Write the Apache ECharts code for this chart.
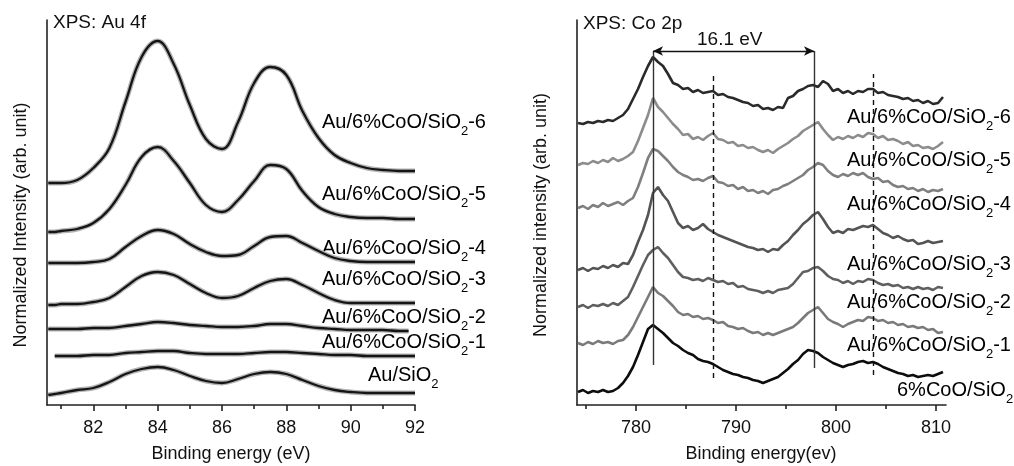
<!DOCTYPE html>
<html><head><meta charset="utf-8">
<script src="https://cdn.jsdelivr.net/npm/echarts@6/dist/echarts.min.js"></script>
<style>html,body{margin:0;padding:0;background:#fff}#c{width:1014px;height:466px}</style>
</head><body><div id="c"></div>
<script>
// ---------- Left panel: XPS Au 4f (fitted curves) ----------
const xAu = [80.6, 80.8, 81, 81.5, 82, 82.5, 83, 83.5, 84, 84.5, 85, 85.5, 86, 86.5, 87, 87.5, 88, 88.5, 89, 89.5, 90, 90.5, 91, 91.5, 91.8, 92];
const au6 = [222, 222, 222, 225, 237, 257, 303, 348, 364, 341, 300, 266, 256, 283, 322, 338, 330, 294, 267, 250, 242, 237, 235, 234, 234, 234];
const au5 = [173, 173, 174, 176, 182, 196, 220, 248, 258, 244, 222, 200, 193, 205, 224, 240, 236, 214, 198, 191, 188, 187, 187, 186, 186, 186];
const au4 = [142, 142, 142, 142, 143, 146, 158, 169, 175, 171, 161, 153, 149, 150, 159, 168, 169, 162, 154, 147, 144, 143, 143, 143, 143, 143];
const au3 = [100, 100, 101, 101, 103, 107, 118, 129, 133, 130, 121, 112, 107, 109, 117, 124, 126, 120, 112, 105, 102, 102, 102, 102, 102, 102];
const au2 = [76, 76, 76, 76, 77, 77, 79, 81, 83, 82, 80, 79, 78, 78, 79, 81, 81, 79, 77, 76, 75, 75, 75, 74, 74, null];
const au1 = [null, 49, 49, 49, 50, 50, 52, 53, 54, 54, 52, 51, 51, 51, 52, 53, 53, 52, 51, 50, 50, 49, 49, 49, 49, 49];
const auSiO2 = [10, 11, 12, 15, 17, 23, 31, 36, 38, 35, 29, 24, 22, 26, 31, 33, 31, 25, 19, 15, 13, 12, 12, 12, 12, 12];
const auMajorTicks = [82, 84, 86, 88, 90, 92];
const auMinorTicks = [81, 83, 85, 87, 89, 91];
const auLabels = [['Au/6%CoO/SiO', '-6'], ['Au/6%CoO/SiO', '-5'], ['Au/6%CoO/SiO', '-4'], ['Au/6%CoO/SiO', '-3'], ['Au/6%CoO/SiO', '-2'], ['Au/6%CoO/SiO', '-1'], ['Au/SiO', '']];

// ---------- Right panel: XPS Co 2p ----------
const xCo = [774.2, 774.7, 775.2, 775.7, 776.2, 776.7, 777.2, 777.7, 778.2, 778.7, 779.2, 779.7, 780.2, 780.7, 781.2, 781.7, 782.2, 782.7, 783.2, 783.7, 784.2, 784.7, 785.2, 785.7, 786.2, 786.7, 787.2, 787.7, 788.2, 788.7, 789.2, 789.7, 790.2, 790.7, 791.2, 791.7, 792.2, 792.7, 793.2, 793.7, 794.2, 794.7, 795.2, 795.7, 796.2, 796.7, 797.2, 797.7, 798.2, 798.7, 799.2, 799.7, 800.2, 800.7, 801.2, 801.7, 802.2, 802.7, 803.2, 803.7, 804.2, 804.7, 805.2, 805.7, 806.2, 806.7, 807.2, 807.7, 808.2, 808.7, 809.2, 809.7, 810.2, 810.7];
const co6 = [282,281,283,282,284,283,285,284,287,290, 296,306,316,328,339,348,343,339,331,322, 320,316,317,313,315,312,313,314,310,311, 308,307,305,303,302,299,300,296,297,295, 298,297,307,309,314,316,319,320,318,324, 321,314,316,312,314,311,314,313,316,316, 312,313,310,309,308,306,307,304,305,302, 304,301,302,308];
const co5 = [240,242,241,244,242,245,243,247,244,246, 249,253,264,277,290,307,298,293,287,281, 276,270,271,266,268,265,269,272,266,265, 262,263,259,260,257,258,255,253,255,252, 256,259,262,266,269,274,277,280,283,276, 270,265,268,266,269,267,270,268,272,271, 267,269,265,266,264,261,263,259,260,257, 258,256,259,263];
const co4 = [197,199,196,200,198,202,199,201,203,200, 204,207,218,232,247,256,254,249,244,238, 233,230,228,225,226,224,227,229,223,222, 219,220,216,218,214,215,212,214,211,215, 216,219,221,224,227,230,235,238,242,240, 234,230,228,231,229,232,230,232,228,226, 227,223,224,220,218,219,216,217,214,216, 213,215,214,216];
const co3 = [135,137,134,137,136,139,137,140,138,142, 141,150,163,175,190,212,218,210,204,193, 182,177,179,175,177,181,176,173,170,168, 166,164,162,160,158,157,155,156,153,156, 155,160,164,170,175,181,185,190,193,186, 178,172,174,172,176,175,177,179,178,180, 176,172,170,167,169,166,164,165,161,162, 164,162,163,164];
const co2 = [98,100,97,100,99,101,99,102,100,104, 108,118,129,140,150,155,158,152,147,140, 133,128,127,125,126,124,127,125,123,124, 121,122,118,119,116,115,114,112,114,112, 115,116,117,121,127,133,134,137,138,134, 129,126,125,122,124,121,124,123,126,125, 122,120,121,119,120,117,118,116,118,116, 117,115,118,117];
const co1 = [62,60,63,61,64,62,63,61,64,65, 70,78,88,98,108,118,112,109,104,99, 93,90,91,88,89,86,87,85,82,83, 79,78,76,77,74,72,73,70,72,70, 72,74,76,78,82,87,92,95,98,92, 86,83,81,78,81,83,85,84,88,87, 84,85,82,83,80,81,78,79,77,78, 75,76,72,73];
const co0 = [13,15,12,14,13,15,13,14,17,22, 29,38,50,63,76,80,76,72,67,62, 59,55,52,50,46,44,43,41,38,35, 33,31,30,28,27,25,24,22,24,26, 28,32,36,41,45,51,55,54,52,48, 45,42,40,38,40,41,43,44,42,43, 41,38,36,34,32,31,29,30,28,29, 30,29,31,33];
const coMajorTicks = [780, 790, 800, 810];
const coMinorTicks = [775, 785, 795, 805];
const coLabels = [['Au/6%CoO/SiO', '-6'], ['Au/6%CoO/SiO', '-5'], ['Au/6%CoO/SiO', '-4'], ['Au/6%CoO/SiO', '-3'], ['Au/6%CoO/SiO', '-2'], ['Au/6%CoO/SiO', '-1'], ['6%CoO/SiO', '']];
const coPeaks = [781.7, 797.8];      // Co 2p3/2 and 2p1/2 main peaks (solid lines)
const coSatellites = [787.7, 803.7]; // satellite positions (dashed lines)
const splitText = '16.1 eV';

const FONT = 'Liberation Sans, Arial, Helvetica, sans-serif';
const pairs = (xs, ys) => xs.map((x, i) => [x, ys[i]]);

const auCurves = [au6, au5, au4, au3, au2, au1, auSiO2];
const coCurves = [co6, co5, co4, co3, co2, co1, co0];
const coColors = ['#2a2a2a', '#8c8c8c', '#7f7f7f', '#545454', '#5f5f5f', '#7a7a7a', '#0d0d0d'];

const series = [];
auCurves.forEach(c => {
  series.push({type: 'line', xAxisIndex: 0, yAxisIndex: 0, data: pairs(xAu, c), smooth: 0.4, showSymbol: false, connectNulls: false,
    lineStyle: {color: '#b4b4b4', width: 5}, z: 1, silent: true});
  series.push({type: 'line', xAxisIndex: 0, yAxisIndex: 0, data: pairs(xAu, c), smooth: 0.4, showSymbol: false,
    lineStyle: {color: '#151515', width: 2.3}, z: 2, silent: true});
});
coCurves.forEach((c, i) => {
  series.push({type: 'line', xAxisIndex: 2, yAxisIndex: 1, data: pairs(xCo, c), showSymbol: false,
    lineStyle: {color: coColors[i], width: 2.6}, z: 2, silent: true});
});
// reference lines on right panel
const solidStyle = {color: '#333', width: 1.4, type: 'solid'};
const dashStyle = {color: '#111', width: 1.4, type: [5, 4]};
const mlData = [];
coPeaks.forEach((p, i) => mlData.push([{coord: [p, i === 0 ? 40 : 37], symbol: 'none', lineStyle: solidStyle}, {coord: [p, 354], symbol: 'none'}]));
coSatellites.forEach((p, i) => mlData.push([{coord: [p, i === 0 ? 27 : 30], symbol: 'none', lineStyle: dashStyle}, {coord: [p, 331], symbol: 'none'}]));
mlData.push([{coord: [coPeaks[0], 354], symbol: 'arrow', symbolSize: [7, 10], lineStyle: {color: '#111', width: 1.4, type: 'solid'}},
             {coord: [coPeaks[1], 354], symbol: 'arrow', symbolSize: [7, 10]}]);
series.push({type: 'line', xAxisIndex: 2, yAxisIndex: 1, data: [], silent: true,
  markLine: {silent: true, animation: false, label: {show: false}, emphasis: {disabled: true}, data: mlData}});

const axisLineStyle = {color: '#222', width: 1.6};
function xAxes(grid, min, max, major, minor) {
  return [
    {gridIndex: grid, type: 'value', position: 'bottom', min, max,
      axisLine: {show: true, lineStyle: axisLineStyle},
      axisTick: {show: true, customValues: major, length: 6, lineStyle: axisLineStyle},
      axisLabel: {show: true, customValues: major, fontSize: 18, color: '#111', fontFamily: FONT, margin: 14},
      splitLine: {show: false}},
    {gridIndex: grid, type: 'value', position: 'bottom', min, max,
      axisLine: {show: false},
      axisTick: {show: true, customValues: minor, length: 4, lineStyle: axisLineStyle},
      axisLabel: {show: false}, splitLine: {show: false}}
  ];
}
const yAxisCommon = {type: 'value', min: 0, max: 385, axisLine: {show: true, lineStyle: axisLineStyle},
  axisTick: {show: false}, axisLabel: {show: false}, splitLine: {show: false}};

const rich = {
  n: {fontSize: 20, fontFamily: FONT, color: '#111', lineHeight: 20},
  s: {fontSize: 13, fontFamily: FONT, color: '#111', lineHeight: 31, verticalAlign: 'bottom'}
};
function labelText(parts) { return `{n|${parts[0]}}{s|2}` + (parts[1] ? `{n|${parts[1]}}` : ''); }
const auLabelPos = [[322, 122], [322, 194], [322, 248], [322, 279], [322, 317], [322, 342], [368, 375]];
const coLabelPos = [[847, 117], [847, 160], [847, 204], [847, 264], [847, 302], [847, 345], [897, 390]];
const graphics = [];
auLabels.forEach((p, i) => graphics.push({type: 'text', x: auLabelPos[i][0], y: auLabelPos[i][1], silent: true,
  style: {text: labelText(p), rich, textAlign: 'left', align: 'left', textVerticalAlign: 'middle', verticalAlign: 'middle'}}));
coLabels.forEach((p, i) => graphics.push({type: 'text', x: coLabelPos[i][0], y: coLabelPos[i][1], silent: true,
  style: {text: labelText(p), rich, textAlign: 'left', align: 'left', textVerticalAlign: 'middle', verticalAlign: 'middle'}}));
function txt(t, x, y, size, align, rot) {
  return {type: 'text', x, y, rotation: rot || 0, silent: true,
    style: {text: t, font: `${size}px ${FONT}`, fill: '#111', textAlign: align, align: align, textVerticalAlign: 'middle', verticalAlign: 'middle'}};
}
graphics.push(txt('XPS: Au 4f', 53, 23, 19, 'left'));
graphics.push(txt('XPS: Co 2p', 583, 24, 19, 'left'));
graphics.push(txt(splitText, 697, 40, 19, 'left'));
graphics.push(txt('Binding energy (eV)', 231, 454, 18, 'center'));
graphics.push(txt('Binding energy(ev)', 761, 454, 18, 'center'));
graphics.push(txt('Normalized Intensity (arb. unit)', 21, 225, 18, 'center', Math.PI / 2));
graphics.push(txt('Normalized intensity (arb. unit)', 541, 215, 18, 'center', Math.PI / 2));

const chart = echarts.init(document.getElementById('c'), null, {renderer: 'canvas'});
chart.setOption({
  animation: false,
  backgroundColor: '#fff',
  grid: [
    {left: 47, right: 599, top: 20, bottom: 61},
    {left: 577, right: 68, top: 20, bottom: 61}
  ],
  xAxis: [...xAxes(0, 80.56, 92, auMajorTicks, auMinorTicks), ...xAxes(1, 774.1, 811, coMajorTicks, coMinorTicks)],
  yAxis: [Object.assign({gridIndex: 0}, yAxisCommon), Object.assign({gridIndex: 1}, yAxisCommon)],
  series,
  graphic: graphics
});
</script></body></html>
